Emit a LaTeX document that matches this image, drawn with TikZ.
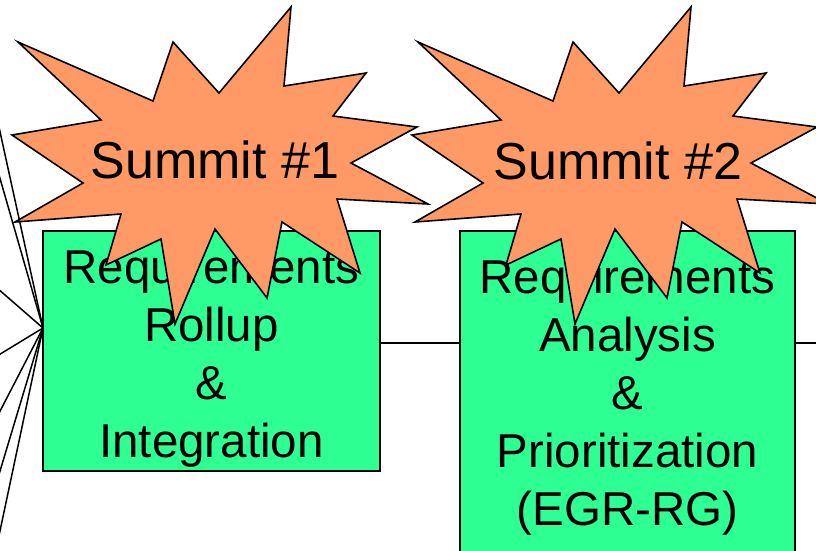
\documentclass[tikz,border=0pt]{standalone}
\usepackage{fontspec}
\setmainfont{Liberation Sans}
\definecolor{boxgreen}{RGB}{46,255,146}
\definecolor{burstorange}{RGB}{255,153,102}
\tikzset{
  stagebox/.style={draw=black, line width=1.8pt, fill=boxgreen, rectangle, inner sep=0pt},
  stagetext/.style={align=center, inner sep=0pt, font=\fontsize{47.5}{58}\selectfont},
  bursttext/.style={inner sep=0pt, anchor=base, font=\fontsize{52}{60}\selectfont},
  link/.style={draw=black, line width=1.4pt},
  feed/.style={draw=black, line width=1.5pt},
  burst/.pic={
    \draw[fill=burstorange, line width=1.6pt, line join=miter]
      (18,42) -- (153,101) -- (173,42) -- (219,93) -- (291,7) -- (284,86)
      -- (366,73) -- (333,116) -- (417,127) -- (351,163) -- (428,204)
      -- (337,199) -- (360,273) -- (282,222) -- (267,298) -- (215,229)
      -- (175,324) -- (161,239) -- (106,265) -- (121,214) -- (15,222)
      -- (83,183) -- (12,135) -- (101,120) -- cycle;
  }
}
\begin{document}
\begin{tikzpicture}[x=1pt, y=-1pt]
  \useasboundingbox (0,0) rectangle (816,550);

  % incoming feeds converging on the rollup stage
  \coordinate (hub) at (43,328);
  \coordinate (f1) at (-3,118);
  \coordinate (f2) at (-3,168);
  \coordinate (f3) at (-3,288);
  \coordinate (f4) at (-3,356);
  \coordinate (f5) at (-3,417);
  \coordinate (f6) at (-3,481);
  \coordinate (f7) at (-3,545);
  \foreach \f in {f1,f2,f3,f4,f5,f6,f7}
    \draw[feed] (\f) -- (hub);

  % the two stages
  \node[stagebox, minimum width=337pt, minimum height=240pt] (b1) at (211.5,351) {};
  \node[stagebox, minimum width=335pt, minimum height=326pt] (b2) at (627.5,394) {};
  \node[stagetext] (t1) at (211.5,358) {Requirements\\Rollup\\\&\\Integration};
  \node[stagetext] (t2) at (627.5,397) {Requirements\\Analysis\\\&\\Prioritization\\(EGR-RG)};

  % links between stages
  \coordinate (lk) at (0,343);
  \coordinate (out) at (820,343);
  \draw[link] (b1.east |- lk) -- (b2.west |- lk);
  \draw[link] (b2.east |- lk) -- (out);

  % summit bursts
  \pic at (0,0) {burst};
  \pic at (400,0) {burst};
  \node[bursttext] (s1) at (215,178) {Summit \#1};
  \node[bursttext] (s2) at (618,179) {Summit \#2};
\end{tikzpicture}
\end{document}
